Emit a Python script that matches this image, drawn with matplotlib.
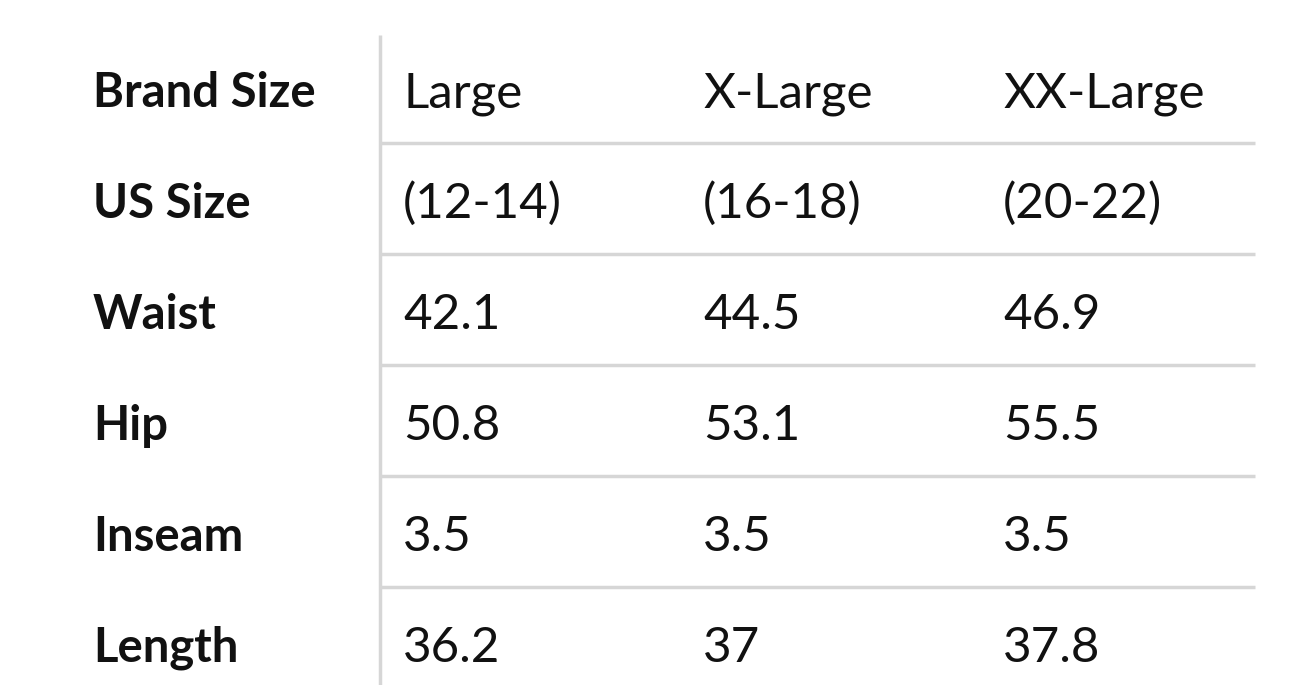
import matplotlib.pyplot as plt

row_labels = ['Brand Size', 'US Size', 'Waist', 'Hip', 'Inseam', 'Length']
large = ['Large', '(12-14)', '42.1', '50.8', '3.5', '36.2']
xlarge = ['X-Large', '(16-18)', '44.5', '53.1', '3.5', '37']
xxlarge = ['XX-Large', '(20-22)', '46.9', '55.5', '3.5', '37.8']
columns = [large, xlarge, xxlarge]

plt.rcParams['font.family'] = ['Lato', 'DejaVu Sans']

W, H = 1298, 685
fig = plt.figure(figsize=(W / 100, H / 100), dpi=100)
ax = fig.add_axes([0, 0, 1, 1])
ax.set_xlim(0, W)
ax.set_ylim(H, 0)
ax.axis('off')

row_h = 111
top = 35
line_col = '#d6d6d6'

# vertical separator
ax.plot([380, 380], [top, H], color=line_col, lw=2.5, solid_capstyle='butt')

for i, lab in enumerate(row_labels):
    yb = 107 + row_h * i   # baseline
    ax.text(93, yb, lab, fontsize=34, fontweight='bold', color='#111111',
            va='baseline', ha='left')
    for j, col in enumerate(columns):
        ax.text(403 + 300 * j, yb, col[i], fontsize=35.5, color='#111111',
                va='baseline', ha='left')
    if i < len(row_labels) - 1:
        yl = top + row_h * (i + 1) - 3
        ax.plot([380, 1255], [yl, yl], color=line_col, lw=2.5,
                solid_capstyle='butt')

fig.savefig('out.png', dpi=100)
